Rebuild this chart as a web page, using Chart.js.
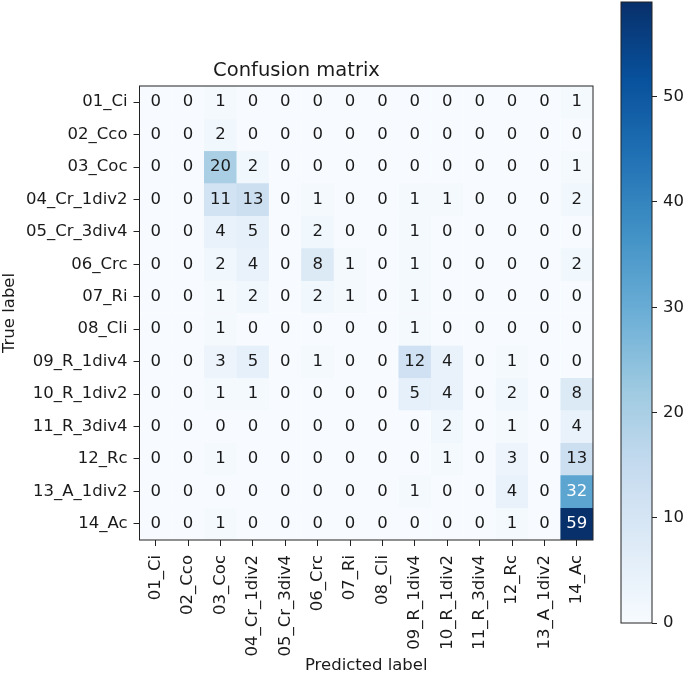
<!DOCTYPE html>
<html>
<head>
<meta charset="utf-8">
<script src="https://cdn.jsdelivr.net/npm/chart.js@4/dist/chart.umd.min.js"></script>
<style>
  html, body { margin: 0; padding: 0; background: #fff; }
  #wrap { position: relative; width: 685px; height: 676px; }
  #mainBox { position: absolute; left: 0; top: 0; width: 685px; height: 676px; }
  #barBox { position: absolute; left: 600px; top: 0; width: 85px; height: 676px; }
</style>
</head>
<body>
<div id="wrap">
  <div id="mainBox"><canvas id="matrixChart"></canvas></div>
  <div id="barBox"><canvas id="colorbarChart"></canvas></div>
</div>
<script>
// class names (same for true and predicted)
const labels = ['01_Ci', '02_Cco', '03_Coc', '04_Cr_1div2', '05_Cr_3div4', '06_Crc', '07_Ri',
    '08_Cli', '09_R_1div4', '10_R_1div2', '11_R_3div4', '12_Rc', '13_A_1div2', '14_Ac'];

// one array per true label row
const row01 = [0, 0, 1, 0, 0, 0, 0, 0, 0, 0, 0, 0, 0, 1];
const row02 = [0, 0, 2, 0, 0, 0, 0, 0, 0, 0, 0, 0, 0, 0];
const row03 = [0, 0, 20, 2, 0, 0, 0, 0, 0, 0, 0, 0, 0, 1];
const row04 = [0, 0, 11, 13, 0, 1, 0, 0, 1, 1, 0, 0, 0, 2];
const row05 = [0, 0, 4, 5, 0, 2, 0, 0, 1, 0, 0, 0, 0, 0];
const row06 = [0, 0, 2, 4, 0, 8, 1, 0, 1, 0, 0, 0, 0, 2];
const row07 = [0, 0, 1, 2, 0, 2, 1, 0, 1, 0, 0, 0, 0, 0];
const row08 = [0, 0, 1, 0, 0, 0, 0, 0, 1, 0, 0, 0, 0, 0];
const row09 = [0, 0, 3, 5, 0, 1, 0, 0, 12, 4, 0, 1, 0, 0];
const row10 = [0, 0, 1, 1, 0, 0, 0, 0, 5, 4, 0, 2, 0, 8];
const row11 = [0, 0, 0, 0, 0, 0, 0, 0, 0, 2, 0, 1, 0, 4];
const row12 = [0, 0, 1, 0, 0, 0, 0, 0, 0, 1, 0, 3, 0, 13];
const row13 = [0, 0, 0, 0, 0, 0, 0, 0, 1, 0, 0, 4, 0, 32];
const row14 = [0, 0, 1, 0, 0, 0, 0, 0, 0, 0, 0, 1, 0, 59];
const rows = [row01, row02, row03, row04, row05, row06, row07,
    row08, row09, row10, row11, row12, row13, row14];

const colorbarTicks = [0, 10, 20, 30, 40, 50];

// matplotlib "Blues" stops
const blues = ['#f7fbff', '#deebf7', '#c6dbef', '#9ecae1', '#6baed6',
    '#4292c6', '#2171b5', '#08519c', '#08306b'];

const maxVal = Math.max(...rows.map(r => Math.max(...r)));
const FONT = 'DejaVu Sans';
const TEXT = '#1a1a1a';

function hexToRgb(h) {
    return [parseInt(h.slice(1, 3), 16), parseInt(h.slice(3, 5), 16), parseInt(h.slice(5, 7), 16)];
}

function bluesColor(t) {
    t = Math.min(1, Math.max(0, t)) * (blues.length - 1);
    const i = Math.min(Math.floor(t), blues.length - 2);
    const f = t - i;
    const a = hexToRgb(blues[i]), b = hexToRgb(blues[i + 1]);
    const c = a.map((v, k) => Math.round(v + (b[k] - v) * f));
    return 'rgb(' + c.join(',') + ')';
}

// frame around the plot area
const framePlugin = {
    id: 'frame',
    afterDatasetsDraw(chart) {
        const a = chart.chartArea;
        const ctx = chart.ctx;
        ctx.save();
        ctx.strokeStyle = '#222';
        ctx.lineWidth = 1;
        ctx.strokeRect(a.left, a.top, a.right - a.left, a.bottom - a.top);
        ctx.restore();
    }
};

// count labels inside each cell
const cellTextPlugin = {
    id: 'cellText',
    afterDatasetsDraw(chart) {
        const ctx = chart.ctx;
        const xs = chart.scales.x, ys = chart.scales.y;
        ctx.save();
        ctx.font = '16.5px "' + FONT + '"';
        ctx.textAlign = 'center';
        ctx.textBaseline = 'middle';
        rows.forEach((row, r) => {
            row.forEach((v, c) => {
                ctx.fillStyle = v > maxVal / 2 ? '#ffffff' : TEXT;
                ctx.fillText(String(v), xs.getPixelForValue(c), ys.getPixelForValue(r));
            });
        });
        ctx.restore();
    }
};

function initializeMatrix() {
    const datasets = rows.map((row, r) => ({
        data: row.map(() => [r - 0.5, r + 0.5]),
        backgroundColor: row.map(v => bluesColor(v / maxVal)),
        borderColor: row.map(v => bluesColor(v / maxVal)),
        borderWidth: 0.5,
        borderSkipped: false,
        barPercentage: 1,
        categoryPercentage: 1,
        grouped: false
    }));

    new Chart(document.getElementById('matrixChart'), {
        type: 'bar',
        data: { labels: labels, datasets: datasets },
        options: {
            responsive: true,
            maintainAspectRatio: false,
            animation: false,
            layout: { padding: { left: 0, right: 92, top: 0, bottom: 0 } },
            plugins: {
                legend: { display: false },
                tooltip: { enabled: false },
                title: {
                    display: true,
                    text: 'Confusion matrix',
                    color: TEXT,
                    font: { family: FONT, size: 19.5, weight: 'normal' },
                    padding: { top: 59.3, bottom: 3.3 }
                }
            },
            scales: {
                x: {
                    type: 'category',
                    offset: true,
                    grid: { drawOnChartArea: false, drawTicks: true, tickLength: 6, color: '#222', offset: false },
                    border: { display: false },
                    ticks: {
                        color: TEXT,
                        font: { family: FONT, size: 16.5 },
                        minRotation: 90,
                        maxRotation: 90,
                        autoSkip: false,
                        padding: 9
                    },
                    title: {
                        display: true,
                        text: 'Predicted label',
                        color: TEXT,
                        font: { family: FONT, size: 16.5 },
                        padding: 0
                    },
                    afterFit(scale) {
                        scale.height = 136;
                        scale.paddingLeft = 0;
                        scale.paddingRight = 0;
                    }
                },
                y: {
                    type: 'linear',
                    reverse: true,
                    min: -0.5,
                    max: labels.length - 0.5,
                    grid: { drawOnChartArea: false, drawTicks: true, tickLength: 6, color: '#222' },
                    border: { display: false },
                    afterBuildTicks(scale) {
                        scale.ticks = labels.map((_, i) => ({ value: i }));
                    },
                    ticks: {
                        color: TEXT,
                        font: { family: FONT, size: 16.5 },
                        padding: 6,
                        autoSkip: false,
                        callback: v => labels[v]
                    },
                    title: {
                        display: true,
                        text: 'True label',
                        color: TEXT,
                        font: { family: FONT, size: 16.5 },
                        padding: 0
                    },
                    afterFit(scale) {
                        scale.width = 139.5;
                        scale.paddingTop = 0;
                        scale.paddingBottom = 0;
                    }
                }
            }
        },
        plugins: [cellTextPlugin, framePlugin]
    });
}

function initializeColorbar() {
    new Chart(document.getElementById('colorbarChart'), {
        type: 'bar',
        data: {
            labels: [''],
            datasets: [{
                data: [[0, maxVal]],
                barPercentage: 1,
                categoryPercentage: 1,
                borderWidth: 0,
                backgroundColor(context) {
                    const area = context.chart.chartArea;
                    if (!area) return blues[0];
                    const g = context.chart.ctx.createLinearGradient(0, area.bottom, 0, area.top);
                    blues.forEach((c, i) => g.addColorStop(i / (blues.length - 1), c));
                    return g;
                }
            }]
        },
        options: {
            responsive: true,
            maintainAspectRatio: false,
            animation: false,
            layout: { padding: { left: 21, right: 0, top: 2, bottom: 53 } },
            plugins: {
                legend: { display: false },
                tooltip: { enabled: false }
            },
            scales: {
                x: { display: false },
                y: {
                    position: 'right',
                    min: 0,
                    max: maxVal,
                    grid: { drawOnChartArea: false, drawTicks: true, tickLength: 5, color: '#222' },
                    border: { display: false },
                    afterBuildTicks(scale) {
                        scale.ticks = colorbarTicks.map(v => ({ value: v }));
                    },
                    ticks: {
                        color: TEXT,
                        font: { family: FONT, size: 16.5 },
                        padding: 6
                    },
                    afterFit(scale) {
                        scale.width = 33;
                        scale.paddingTop = 0;
                        scale.paddingBottom = 0;
                    }
                }
            }
        },
        plugins: [framePlugin]
    });
}

document.addEventListener('DOMContentLoaded', function() {
    initializeMatrix();
    initializeColorbar();
});
</script>
</body>
</html>
